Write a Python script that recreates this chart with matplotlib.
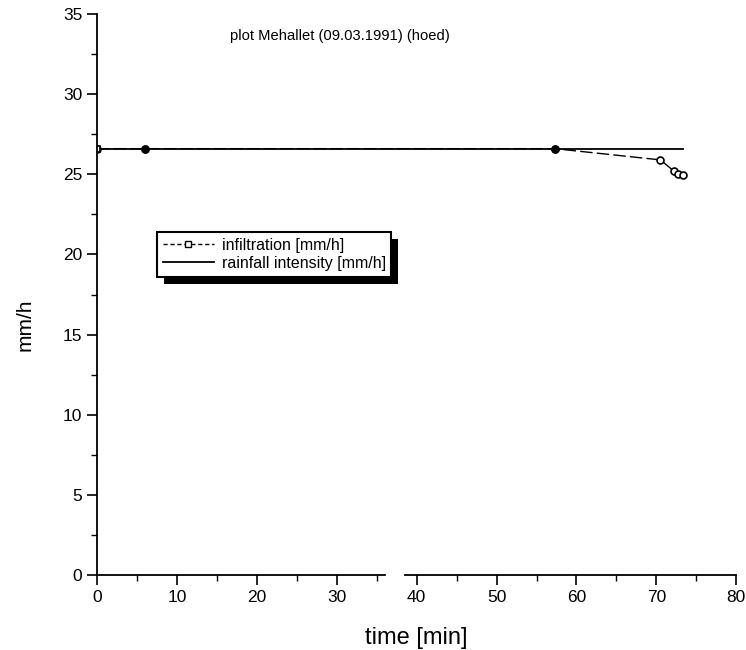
import matplotlib
matplotlib.use('Agg')
import matplotlib.pyplot as plt
from matplotlib.lines import Line2D
from matplotlib.patches import Rectangle
from matplotlib.transforms import IdentityTransform
import numpy as np

plt.rcParams['font.family'] = ['Liberation Sans', 'DejaVu Sans']

# data
infil_t = [0.0, 6.0, 57.3, 70.5, 72.2, 72.7, 73.3]
infil_v = [26.6, 26.6, 26.6, 25.9, 25.2, 25.05, 24.97]
rain_t = [0.0, 73.3]
rain_v = [26.6, 26.6]
title = 'plot Mehallet (09.03.1991) (hoed)'
xticks = [0, 10, 20, 30, 40, 50, 60, 70, 80]
yticks = [0, 5, 10, 15, 20, 25, 30, 35]
xgap = (36.0, 38.5)   # break in the x axis line

fig = plt.figure(figsize=(7.46, 6.50), dpi=100)
ax = fig.add_axes([0.130, 0.1154, 0.857, 0.863])

ax.plot(rain_t, rain_v, color='black', lw=1.3)
ax.plot(infil_t, infil_v, color='black', lw=1.0, dashes=(9, 3),
        marker='o', ms=5, mfc='white', mec='black', mew=1.2)
ax.plot(infil_t[1:3], infil_v[1:3], ls='none', marker='o', ms=5, color='black')
ax.plot(infil_t[:1], infil_v[:1], ls='none', marker='s', ms=4, mfc='white', mec='black', mew=1.2)

ax.set_xlim(0, 80)
ax.set_ylim(0, 35)
ax.set_xticks(xticks)
ax.set_yticks(yticks)
ax.set_xticks(np.arange(5, 80, 10), minor=True)
ax.set_yticks(np.arange(2.5, 35, 5), minor=True)
ax.tick_params(axis='both', which='major', direction='out', length=7, width=1.2, labelsize=12.5)
ax.tick_params(axis='both', which='minor', direction='out', length=4, width=1.0)

for s in ['top', 'right', 'bottom']:
    ax.spines[s].set_visible(False)
ax.spines['left'].set_linewidth(1.3)
ax.plot([0, xgap[0]], [0, 0], color='black', lw=1.3, clip_on=False)
ax.plot([xgap[1], 80], [0, 0], color='black', lw=1.3, clip_on=False)

ax.text(30.4, 33.6, title, ha='center', va='center', fontsize=10.6)
ax.set_xlabel('time [min]', fontsize=17, labelpad=16)
ax.set_ylabel('mm/h', fontsize=15)
ax.yaxis.set_label_coords(-0.097, 0.446)

handles = [Line2D([], [], color='black', lw=1.0, dashes=(3, 2), marker='s', ms=4,
                  mfc='white', mec='black'),
           Line2D([], [], color='black', lw=1.3)]
leg = ax.legend(handles, ['infiltration [mm/h]', 'rainfall intensity [mm/h]'],
                loc='upper left', bbox_to_anchor=(0.094, 0.611), borderaxespad=0,
                fontsize=11.5, frameon=True, fancybox=False, edgecolor='black', framealpha=1,
                handlelength=3.2, borderpad=0.35, labelspacing=0.2, handletextpad=0.5)
leg.get_frame().set_linewidth(1.5)
leg.set_zorder(5)

fig.canvas.draw()
bb = leg.get_window_extent()
off = 7
shadow = Rectangle((bb.x0 + off, bb.y0 - off), bb.width, bb.height, transform=IdentityTransform(),
                   facecolor='black', edgecolor='none', zorder=4, clip_on=False)
ax.add_artist(shadow)

fig.savefig('out.png', dpi=100)
